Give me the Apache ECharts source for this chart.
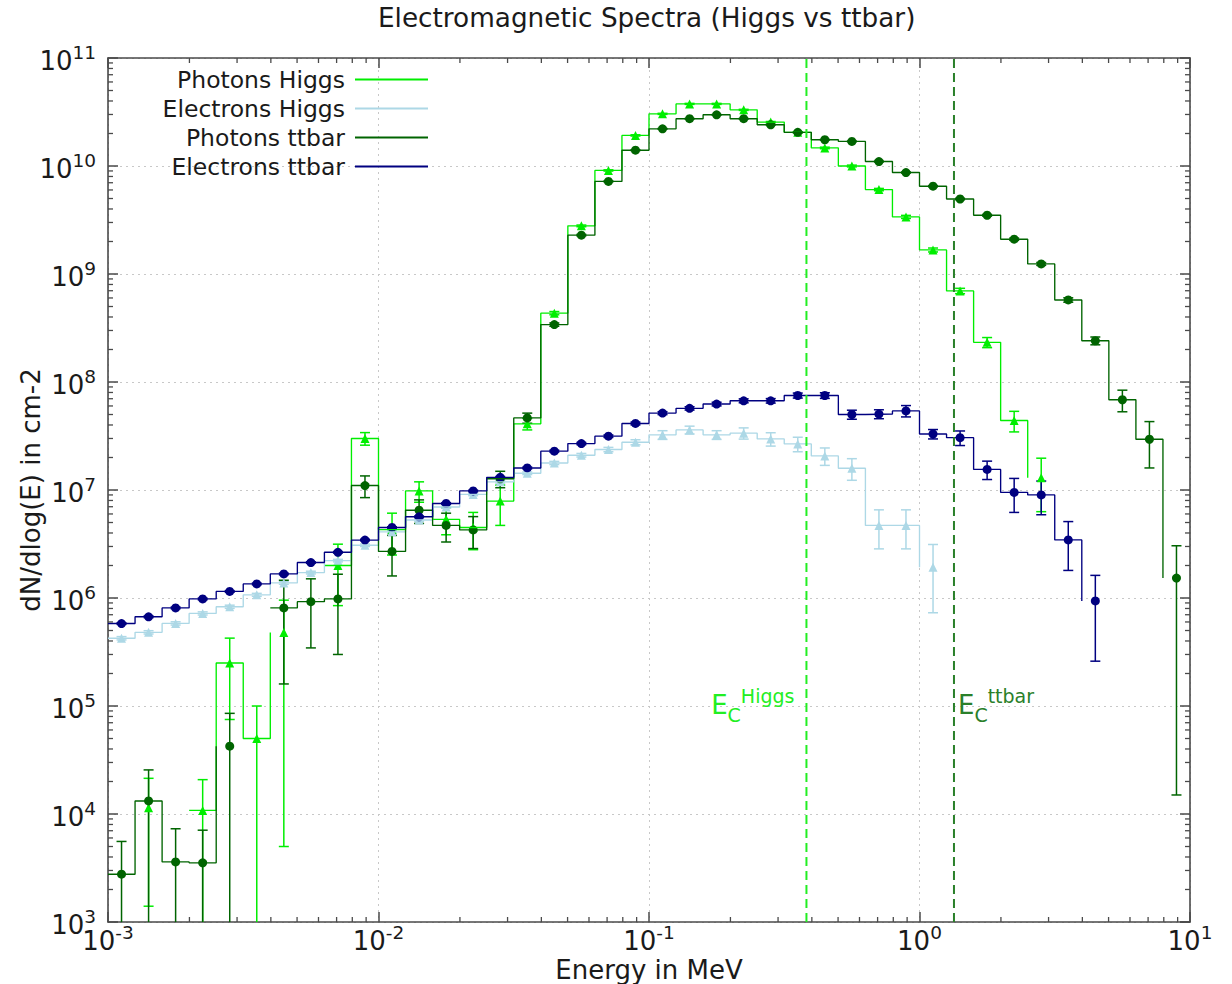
<!DOCTYPE html>
<html>
<head>
<meta charset="utf-8">
<title>Electromagnetic Spectra (Higgs vs ttbar)</title>
<script src="https://cdn.jsdelivr.net/npm/echarts@6/dist/echarts.min.js"></script>
<style>
  html, body { margin: 0; padding: 0; background: #ffffff; }
  #chart { width: 1232px; height: 984px; }
</style>
</head>
<body>
<div id="chart"></div>
<script>
// Energy binning in MeV: 10 logarithmic bins per decade, 1e-3 .. 10
const energyBinEdges = [
  0.001, 0.001259, 0.001585, 0.001995, 0.002512, 0.003162, 0.003981, 0.005012, 0.00631, 0.007943,
  0.01, 0.01259, 0.01585, 0.01995, 0.02512, 0.03162, 0.03981, 0.05012, 0.0631, 0.07943,
  0.1, 0.1259, 0.1585, 0.1995, 0.2512, 0.3162, 0.3981, 0.5012, 0.631, 0.7943,
  1, 1.259, 1.585, 1.995, 2.512, 3.162, 3.981, 5.012, 6.31, 7.943, 10
];

// dN/dlog(E) per bin (null = empty bin) and its statistical error
const photonsHiggs = [
  null, 1.14e4, null, 1.08e4, 2.5e5, 5.0e4, 4.8e5, null, 2.0e6, 3.0e7,
  4.3e6, 9.8e6, 5.35e6, 4.5e6, 7.9e6, 4.1e7, 4.34e8, 2.79e9, 9.1e9, 1.92e10,
  3.04e10, 3.76e10, 3.76e10, 3.31e10, 2.55e10, 2.05e10, 1.47e10, 1.0e10, 6.05e9, 3.38e9,
  1.67e9, 6.97e8, 2.33e8, 4.4e7, 1.3e7
];
const photonsHiggsErr = [
  null, 1.0e4, null, 1.0e4, 1.75e5, 5.0e4, 4.75e5, null, 1.15e6, 4.0e6,
  1.8e6, 2.1e6, 1.5e6, 1.7e6, 3.2e6, 5.0e6, 1.5e7, 5.0e7, 1.2e8, 2.5e8,
  3.5e8, 4.0e8, 4.0e8, 3.8e8, 3.2e8, 2.8e8, 2.4e8, 1.9e8, 1.5e8, 1.1e8,
  7.0e7, 4.0e7, 2.5e7, 9.5e6, 6.7e6
];

const electronsHiggs = [
  4.24e5, 4.81e5, 5.82e5, 7.2e5, 8.3e5, 1.07e6, 1.38e6, 1.72e6, 2.22e6, 3.08e6,
  4.1e6, 5.27e6, 6.96e6, 9.1e6, 1.19e7, 1.43e7, 1.78e7, 2.1e7, 2.37e7, 2.77e7,
  3.24e7, 3.6e7, 3.24e7, 3.36e7, 2.97e7, 2.67e7, 2.07e7, 1.59e7, 4.7e6, 4.7e6,
  1.93e6
];
const electronsHiggsErr = [
  1.5e4, 1.7e4, 2.0e4, 2.4e4, 2.8e4, 3.4e4, 4.0e4, 5.0e4, 6.0e4, 8.0e4,
  1.1e5, 1.4e5, 1.8e5, 2.4e5, 3.0e5, 4.0e5, 6.0e5, 8.0e5, 1.1e6, 1.5e6,
  3.0e6, 3.0e6, 3.0e6, 4.0e6, 4.2e6, 4.1e6, 3.8e6, 3.6e6, 1.85e6, 1.85e6,
  1.2e6
];

const photonsTtbar = [
  2.77e3, 1.32e4, 3.6e3, 3.53e3, 4.25e4, null, 8.1e5, 9.25e5, 9.8e5, 1.1e7,
  2.7e6, 6.5e6, 4.7e6, 4.27e6, 1.27e7, 4.65e7, 3.4e8, 2.29e9, 7.2e9, 1.4e10,
  2.21e10, 2.74e10, 2.98e10, 2.74e10, 2.41e10, 2.05e10, 1.75e10, 1.69e10, 1.1e10, 8.7e9,
  6.5e9, 4.95e9, 3.5e9, 2.1e9, 1.24e9, 5.75e8, 2.41e8, 6.85e7, 2.95e7, 1.53e6
];
const photonsTtbarErr = [
  2.8e3, 1.24e4, 3.7e3, 3.55e3, 4.3e4, null, 6.5e5, 5.8e5, 6.8e5, 2.5e6,
  1.1e6, 1.6e6, 1.4e6, 1.4e6, 2.2e6, 5.0e6, 1.2e7, 3.5e7, 7.0e7, 1.1e8,
  1.5e8, 1.7e8, 1.8e8, 1.7e8, 1.6e8, 1.5e8, 1.4e8, 1.4e8, 1.1e8, 1.0e8,
  8.5e7, 7.5e7, 6.5e7, 5.0e7, 3.8e7, 2.7e7, 2.0e7, 1.55e7, 1.35e7, 1.515e6
];

const electronsTtbar = [
  5.8e5, 6.7e5, 8.1e5, 9.8e5, 1.15e6, 1.35e6, 1.67e6, 2.13e6, 2.65e6, 3.44e6,
  4.5e6, 5.65e6, 7.5e6, 9.8e6, 1.31e7, 1.6e7, 2.29e7, 2.69e7, 3.15e7, 4.13e7,
  5.15e7, 5.7e7, 6.25e7, 6.7e7, 6.7e7, 7.5e7, 7.5e7, 5.0e7, 5.05e7, 5.4e7,
  3.3e7, 3.05e7, 1.55e7, 9.5e6, 9.0e6, 3.45e6, 9.4e5
];
const electronsTtbarErr = [
  1.0e4, 1.2e4, 1.4e4, 1.7e4, 2.0e4, 2.3e4, 2.8e4, 3.5e4, 4.3e4, 5.5e4,
  7.0e4, 9.0e4, 1.2e5, 1.6e5, 2.2e5, 2.8e5, 4.5e5, 6.0e5, 8.0e5, 1.2e6,
  1.6e6, 2.0e6, 2.4e6, 2.8e6, 3.2e6, 4.0e6, 4.5e6, 4.8e6, 4.8e6, 6.5e6,
  3.3e6, 4.7e6, 3.0e6, 3.3e6, 3.1e6, 1.65e6, 6.8e5
];

const seriesNames = ['Photons Higgs', 'Electrons Higgs', 'Photons ttbar', 'Electrons ttbar'];

// Critical energies E_C marked by vertical dashed lines
const criticalEnergies = [0.382, 1.341];
const criticalLabels = ['Higgs', 'ttbar'];

// Axis ranges
const xRange = [1e-3, 10];
const yRange = [1e3, 1e11];

// ---------------------------------------------------------------------------
const FONT = 'DejaVu Sans';
const TEXT = '#1a1a1a';
const FRAME = '#4a4a4a';

const binCenters = energyBinEdges.slice(0, -1).map((e, i) => Math.sqrt(e * energyBinEdges[i + 1]));

// Histogram steps: a bin gets its horizontal only when the following bin is filled,
// the vertical joins it to the next filled bin at the shared edge.
function stepPath(values) {
  const pts = [];
  for (let i = 0; i < values.length; i++) {
    const v = values[i];
    if (v == null) continue;
    const prevValid = i > 0 && values[i - 1] != null;
    const nextValid = i + 1 < values.length && values[i + 1] != null;
    if (!prevValid && pts.length) pts.push([null, null]);
    pts.push([energyBinEdges[i], v]);
    if (nextValid) pts.push([energyBinEdges[i + 1], v]);
  }
  return pts;
}

function markerData(values) {
  const out = [];
  values.forEach((v, i) => { if (v != null) out.push([binCenters[i], v]); });
  return out;
}

function errorData(values, errs) {
  const out = [];
  values.forEach((v, i) => { if (v != null) out.push([binCenters[i], v, errs[i]]); });
  return out;
}

function errorRender(color) {
  return function (params, api) {
    const x = api.value(0), y = api.value(1), e = api.value(2);
    const hiRaw = y + e, loRaw = y - e;
    const hi = Math.min(hiRaw, yRange[1]);
    const lo = loRaw > yRange[0] ? loRaw : yRange[0];
    const pHi = api.coord([x, hi]);
    const pLo = api.coord([x, lo]);
    const st = { stroke: color, lineWidth: 1.5 };
    const children = [{ type: 'line', shape: { x1: pHi[0], y1: pHi[1], x2: pLo[0], y2: pLo[1] }, style: st }];
    const cap = 5;
    if (hiRaw < yRange[1]) children.push({ type: 'line', shape: { x1: pHi[0] - cap, y1: pHi[1], x2: pHi[0] + cap, y2: pHi[1] }, style: st });
    if (loRaw > yRange[0]) children.push({ type: 'line', shape: { x1: pLo[0] - cap, y1: pLo[1], x2: pLo[0] + cap, y2: pLo[1] }, style: st });
    return { type: 'group', children: children };
  };
}

function datasetSeries(name, values, errs, color, symbol, size) {
  return [
    {
      name: name, type: 'line', data: stepPath(values), showSymbol: false, symbol: 'none',
      connectNulls: false, lineStyle: { color: color, width: 1.35 }, itemStyle: { color: color },
      emphasis: { disabled: true }, silent: true
    },
    {
      name: name + ' errors', type: 'custom', data: errorData(values, errs),
      renderItem: errorRender(color), silent: true
    },
    {
      name: name + ' points', type: 'scatter', data: markerData(values), symbol: symbol,
      symbolSize: size, itemStyle: { color: color, opacity: 1 }, emphasis: { disabled: true }, silent: true
    }
  ];
}

// Minor ticks (2..9 in every decade) on all four sides of the frame
function minorTickValues(lo, hi) {
  const vals = [];
  for (let p = Math.round(Math.log10(lo)); p < Math.round(Math.log10(hi)); p++) {
    for (let k = 2; k <= 9; k++) vals.push(k * Math.pow(10, p));
  }
  return vals;
}
const minorX = minorTickValues(xRange[0], xRange[1]);
const minorY = minorTickValues(yRange[0], yRange[1]);

const minorTickSeries = {
  name: 'minor ticks', type: 'custom', data: [[xRange[0], yRange[0]]], silent: true, z: 5,
  renderItem: function (params, api) {
    const st = { stroke: FRAME, lineWidth: 1.3 };
    const L = 5;
    const children = [];
    const bottom = api.coord([xRange[0], yRange[0]])[1];
    const top = api.coord([xRange[0], yRange[1]])[1];
    const left = api.coord([xRange[0], yRange[0]])[0];
    const right = api.coord([xRange[1], yRange[0]])[0];
    minorX.forEach(v => {
      const px = api.coord([v, yRange[0]])[0];
      children.push({ type: 'line', shape: { x1: px, y1: bottom, x2: px, y2: bottom - L }, style: st });
      children.push({ type: 'line', shape: { x1: px, y1: top, x2: px, y2: top + L }, style: st });
    });
    minorY.forEach(v => {
      const py = api.coord([xRange[0], v])[1];
      children.push({ type: 'line', shape: { x1: left, y1: py, x2: left + L, y2: py }, style: st });
      children.push({ type: 'line', shape: { x1: right, y1: py, x2: right - L, y2: py }, style: st });
    });
    return { type: 'group', children: children };
  }
};

const criticalColors = ['#22ee22', '#2a802a'];
const criticalSeries = {
  name: 'critical energies', type: 'custom', silent: true, z: 4,
  data: criticalEnergies.map((e, i) => [e, yRange[0], i]),
  renderItem: function (params, api) {
    const e = api.value(0);
    const idx = api.value(2);
    const color = criticalColors[idx];
    const pBot = api.coord([e, yRange[0]]);
    const pTop = api.coord([e, yRange[1]]);
    const pLab = api.coord([e, 1e5]);
    const leftSide = idx === 0;
    return {
      type: 'group',
      children: [
        { type: 'line', shape: { x1: pBot[0], y1: pBot[1], x2: pTop[0], y2: pTop[1] },
          style: { stroke: color, lineWidth: 2, lineDash: [9, 5] } },
        { type: 'text', x: leftSide ? pLab[0] - 12 : pLab[0] + 4, y: pLab[1] - 1,
          style: {
            text: '{e|E}{c|C}{s|' + criticalLabels[idx] + '}',
            align: leftSide ? 'right' : 'left', verticalAlign: 'middle', fill: color,
            rich: {
              e: { fontFamily: FONT, fontSize: 26, lineHeight: 38, verticalAlign: 'middle', fill: color },
              c: { fontFamily: FONT, fontSize: 19, lineHeight: 36, verticalAlign: 'bottom', fill: color },
              s: { fontFamily: FONT, fontSize: 19, lineHeight: 38, verticalAlign: 'top', fill: color }
            }
          } }
      ]
    };
  }
};

const powRich = {
  b: { fontFamily: FONT, fontSize: 26, color: TEXT, lineHeight: 31, verticalAlign: 'bottom' },
  s: { fontFamily: FONT, fontSize: 18.5, color: TEXT, lineHeight: 31, verticalAlign: 'top' }
};
function powLabel(v) {
  const p = Math.round(Math.log10(v));
  return '{b|10}{s|' + p + '}';
}

const gridLine = { show: true, lineStyle: { color: '#c8c8c8', width: 1, type: [2, 4] } };
const frameLine = { show: true, lineStyle: { color: FRAME, width: 1.6 } };
const majorTick = { show: true, inside: true, length: 10, lineStyle: { color: FRAME, width: 1.5 } };

const option = {
  animation: false,
  backgroundColor: '#ffffff',
  title: {
    text: 'Electromagnetic Spectra (Higgs vs ttbar)',
    left: 378, top: 5, padding: 0,
    textStyle: { fontFamily: FONT, fontSize: 26.3, fontWeight: 'normal', color: TEXT }
  },
  legend: {
    data: seriesNames,
    orient: 'vertical', align: 'right', right: 804, top: 65, padding: 0,
    itemGap: 0, itemWidth: 73, itemHeight: 2, icon: 'rect',
    textStyle: { fontFamily: FONT, fontSize: 23.5, color: TEXT, lineHeight: 29, padding: [0, 5, 0, 0] },
    selectedMode: false
  },
  grid: { left: 108, right: 42, top: 58, bottom: 62, containLabel: false, outerBoundsMode: 'none' },
  xAxis: [
    {
      type: 'log', logBase: 10, min: xRange[0], max: xRange[1], splitNumber: 4,
      position: 'bottom',
      name: 'Energy in MeV', nameLocation: 'middle', nameGap: 34, nameMoveOverlap: false,
      nameTextStyle: { fontFamily: FONT, fontSize: 26, color: TEXT, verticalAlign: 'top', lineHeight: 27 },
      axisLine: frameLine, axisTick: majorTick, splitLine: gridLine,
      axisLabel: { formatter: powLabel, rich: powRich, margin: 1, showMinLabel: true, showMaxLabel: true }
    },
    {
      type: 'log', logBase: 10, min: xRange[0], max: xRange[1], splitNumber: 4,
      position: 'top', axisLine: frameLine, axisTick: majorTick,
      axisLabel: { show: false }, splitLine: { show: false }
    }
  ],
  yAxis: [
    {
      type: 'log', logBase: 10, min: yRange[0], max: yRange[1], splitNumber: 8,
      position: 'left',
      name: 'dN/dlog(E) in cm-2', nameLocation: 'middle', nameGap: 64, nameRotate: 90, nameMoveOverlap: false,
      nameTextStyle: { fontFamily: FONT, fontSize: 26, color: TEXT },
      axisLine: frameLine, axisTick: majorTick, splitLine: gridLine,
      axisLabel: { formatter: powLabel, rich: powRich, margin: 12, showMinLabel: true, showMaxLabel: true }
    },
    {
      type: 'log', logBase: 10, min: yRange[0], max: yRange[1], splitNumber: 8,
      position: 'right', axisLine: frameLine, axisTick: majorTick,
      axisLabel: { show: false }, splitLine: { show: false }
    }
  ],
  series: [].concat(
    [minorTickSeries, criticalSeries],
    datasetSeries(seriesNames[0], photonsHiggs, photonsHiggsErr, '#00ee00', 'triangle', 9),
    datasetSeries(seriesNames[1], electronsHiggs, electronsHiggsErr, '#add8e6', 'triangle', 9),
    datasetSeries(seriesNames[2], photonsTtbar, photonsTtbarErr, '#006400', 'circle', 9),
    datasetSeries(seriesNames[3], electronsTtbar, electronsTtbarErr, '#000080', 'circle', 9)
  )
};

const chart = echarts.init(document.getElementById('chart'), null, { renderer: 'svg' });
chart.setOption(option);
</script>
</body>
</html>
